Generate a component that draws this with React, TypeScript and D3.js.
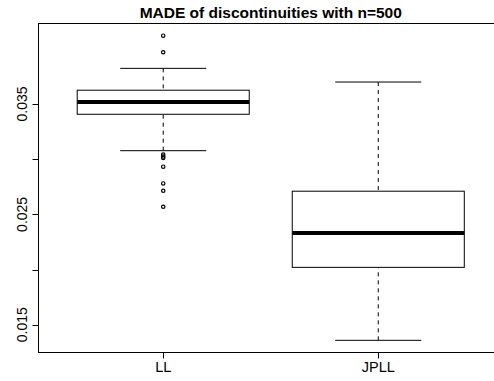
import React from "react";
import * as d3 from "d3";

// Summary statistics for each method (whiskers, quartiles, median) and the outlying points
const categories = ["LL", "JPLL"];
const lowerWhisker = [0.03077, 0.01359];
const q1 = [0.03407, 0.0202];
const median = [0.03518, 0.02331];
const q3 = [0.03625, 0.0271];
const upperWhisker = [0.03823, 0.03699];
const outliers: number[][] = [
  [0.04119, 0.03969, 0.03042, 0.03024, 0.03011, 0.02932, 0.0278, 0.02714, 0.02569],
  [],
];
const yTicks = [0.015, 0.02, 0.025, 0.03, 0.035];
const yTickLabels = ["0.015", "", "0.025", "", "0.035"];
const title = "MADE of discontinuities with n=500";

const W = 494;
const H = 381;
const plot = { left: 38.5, right: 503, top: 23.5, bottom: 352.5 };

export default function App() {
  const allValues = [...lowerWhisker, ...upperWhisker, ...outliers.flat()];
  const lo = d3.min(allValues) as number;
  const hi = d3.max(allValues) as number;
  const pad = (hi - lo) * 0.04;
  const y = d3.scaleLinear().domain([lo - pad, hi + pad]).range([plot.bottom, plot.top]);
  const x = d3
    .scaleLinear()
    .domain([0.42, categories.length + 0.58])
    .range([plot.left, plot.right]);

  const boxHalf = (x(1.4) - x(1)) ;
  const capHalf = boxHalf / 2;
  const font = "'Liberation Sans', Arial, Helvetica, sans-serif";

  return (
    <svg
      width={W}
      height={H}
      style={{ position: "absolute", left: 0, top: 0, background: "#fff" }}
      fontFamily={font}
    >
      <rect x={0} y={0} width={W} height={H} fill="#fff" />
      <text x={(plot.left + plot.right) / 2} y={18} textAnchor="middle" fontWeight="bold" fontSize={15.5}>
        {title}
      </text>

      {categories.map((c, i) => {
        const cx = x(i + 1);
        return (
          <g key={c} stroke="#000" fill="none">
            <line x1={cx} x2={cx} y1={y(upperWhisker[i])} y2={y(q3[i])} strokeDasharray="4,4" strokeWidth={1} />
            <line x1={cx} x2={cx} y1={y(lowerWhisker[i])} y2={y(q1[i])} strokeDasharray="4,4" strokeWidth={1} />
            <line x1={cx - capHalf} x2={cx + capHalf} y1={y(upperWhisker[i])} y2={y(upperWhisker[i])} strokeWidth={1} />
            <line x1={cx - capHalf} x2={cx + capHalf} y1={y(lowerWhisker[i])} y2={y(lowerWhisker[i])} strokeWidth={1} />
            <rect
              x={cx - boxHalf}
              y={y(q3[i])}
              width={boxHalf * 2}
              height={y(q1[i]) - y(q3[i])}
              fill="#fff"
              strokeWidth={1}
            />
            <line
              x1={cx - boxHalf}
              x2={cx + boxHalf}
              y1={y(median[i])}
              y2={y(median[i])}
              strokeWidth={4}
              strokeLinecap="butt"
            />
            {outliers[i].map((v, k) => (
              <circle key={k} cx={cx} cy={y(v)} r={1.7} strokeWidth={1.2} />
            ))}
          </g>
        );
      })}

      {/* frame */}
      <rect
        x={plot.left}
        y={plot.top}
        width={plot.right - plot.left}
        height={plot.bottom - plot.top}
        fill="none"
        stroke="#000"
        strokeWidth={1}
      />

      {/* y axis */}
      <g stroke="#000">
        {yTicks.map((t) => (
          <line key={t} x1={plot.left - 6} x2={plot.left} y1={Math.round(y(t)) + 0.5} y2={Math.round(y(t)) + 0.5} />
        ))}
      </g>
      {yTicks.map((t, i) =>
        yTickLabels[i] ? (
          <text
            key={t}
            transform={`translate(${27},${y(t)}) rotate(-90)`}
            textAnchor="middle"
            fontSize={14}
          >
            {yTickLabels[i]}
          </text>
        ) : null
      )}

      {/* x axis */}
      {categories.map((c, i) => (
        <g key={c}>
          <line
            x1={Math.round(x(i + 1)) + 0.5}
            x2={Math.round(x(i + 1)) + 0.5}
            y1={plot.bottom}
            y2={plot.bottom + 6}
            stroke="#000"
          />
          <text x={x(i + 1)} y={372} textAnchor="middle" fontSize={14.5}>
            {c}
          </text>
        </g>
      ))}
    </svg>
  );
}
